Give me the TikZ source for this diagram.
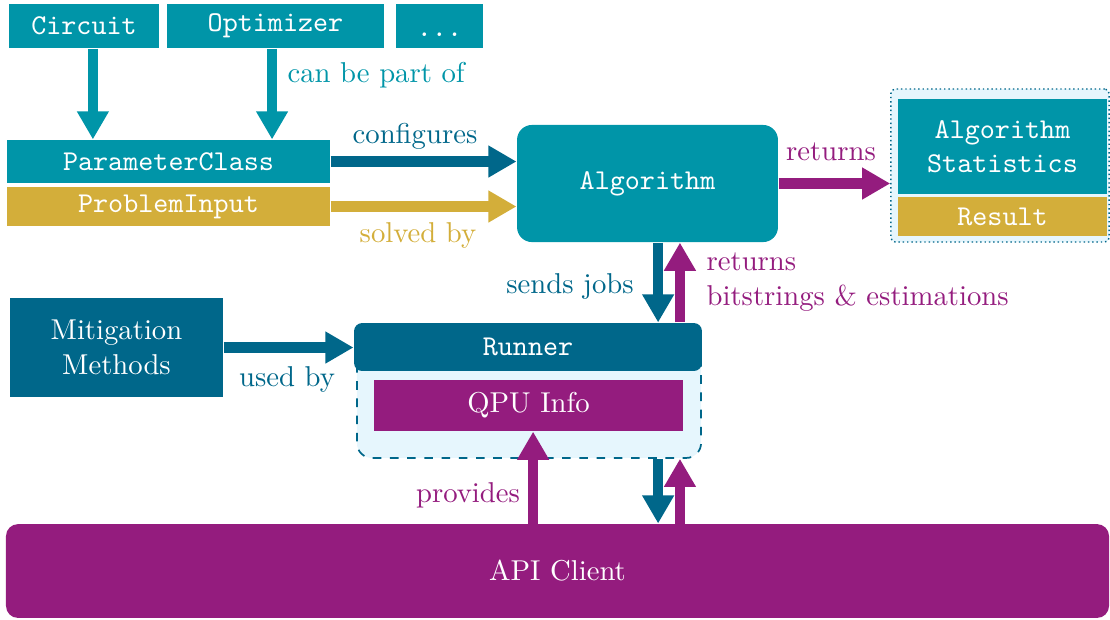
\documentclass[tikz,border=0pt]{standalone}
\usetikzlibrary{arrows.meta}

\definecolor{qteal}{RGB}{0,149,168}
\definecolor{qblue}{RGB}{0,103,138}
\definecolor{qpurple}{RGB}{148,28,126}
\definecolor{qgold}{RGB}{211,174,58}
\definecolor{qlight}{RGB}{230,246,253}

\begin{document}
\begin{tikzpicture}[x=0.3484pt, y=-0.3484pt,
  box/.style={inner sep=0pt, text=white, align=center},
  arr/.style={line width=3.5pt, -{Triangle[width=10.5pt,length=9.8pt]}},
  lbl/.style={inner sep=0pt}]

\useasboundingbox (0,0) rectangle (1110,619);

% top row
\node[box, fill=qteal, font=\ttfamily, minimum width=52.3pt, minimum height=15.3pt] (circuit) at (84,26) {Circuit};
\node[box, fill=qteal, font=\ttfamily, minimum width=75.6pt, minimum height=15.3pt] (optimizer) at (275.5,26) {Optimizer};
\node[box, fill=qteal, font=\ttfamily, text height=7.6pt, text depth=0pt, minimum width=30.3pt, minimum height=15.3pt] (more) at (439.5,26) {...};

% inputs
\node[box, fill=qteal, font=\ttfamily, minimum width=112.5pt, minimum height=15pt] (param) at (168.5,161.5) {ParameterClass};
\node[box, fill=qgold, font=\ttfamily, minimum width=112.5pt, minimum height=13.6pt] (problem) at (168.5,206.5) {ProblemInput};

\node[box, fill=qteal, font=\ttfamily, rounded corners=5.2pt, minimum width=90.9pt, minimum height=40.8pt] (algo) at (647.5,183.5) {Algorithm};

% outputs
\node[draw=qblue, densely dotted, line width=0.5pt, fill=qlight, rounded corners=1.5pt, minimum width=76pt, minimum height=53.3pt] (outbox) at (1000,165.5) {};
\node[box, fill=qteal, font=\ttfamily, minimum width=72.8pt, minimum height=33.1pt] (stats) at (1002.5,146.5) {Algorithm\\Statistics};
\node[box, fill=qgold, font=\ttfamily, minimum width=72.8pt, minimum height=13.6pt] (result) at (1002.5,216.5) {Result};

% runner
\node[box, fill=qblue, minimum width=74.2pt, minimum height=34.5pt] (mitig) at (116.5,347.5) {Mitigation\\Methods};
\node[draw=qblue, dashed, line width=0.6pt, fill=qlight, rounded corners=5.2pt, minimum width=119.9pt, minimum height=46.3pt] (runnerbox) at (529,391.5) {};
\node[box, fill=qblue, font=\ttfamily, rounded corners=2.8pt, minimum width=121.2pt, minimum height=16.7pt] (runner) at (528,347) {Runner};
\node[box, fill=qpurple, minimum width=107.7pt, minimum height=17.8pt] (qpu) at (528.5,405.5) {QPU Info};

\node[box, fill=qpurple, rounded corners=4.2pt, minimum width=384.3pt, minimum height=32.7pt] (api) at (557.5,571) {API Client};

% connectors
\draw[arr, qteal] ([xshift=3.1pt]circuit.south) -- ([xshift=3.1pt]circuit.south |- param.north);
\draw[arr, qteal] ([xshift=-1.2pt]optimizer.south) -- ([xshift=-1.2pt]optimizer.south |- param.north);
\draw[arr, qblue] (param.east) -- (param.east -| algo.west);
\draw[arr, qgold] (problem.east) -- (problem.east -| algo.west);
\draw[arr, qpurple] (algo.east) -- (algo.east -| outbox.west);
\draw[arr, qblue] ([xshift=3.7pt]algo.south) -- ([xshift=3.7pt]algo.south |- runner.north);
\draw[arr, qpurple] ([xshift=11.3pt]algo.south |- runner.north) -- ([xshift=11.3pt]algo.south);
\draw[arr, qblue] (mitig.east) -- (mitig.east -| runner.west);
\draw[arr, qpurple] ([xshift=1.6pt]qpu.south |- api.north) -- ([xshift=1.6pt]qpu.south);
\draw[arr, qblue] ([xshift=3.7pt]algo.south |- runnerbox.south) -- ([xshift=3.7pt]algo.south |- api.north);
\draw[arr, qpurple] ([xshift=11.3pt]algo.south |- api.north) -- ([xshift=11.3pt]algo.south |- runnerbox.south);

% labels
\node[lbl, qteal, anchor=west] (partof) at (287,75) {can be part of};
\node[lbl, qblue] (configures) at (415,136) {configures};
\node[lbl, qgold] (solved) at (418,235) {solved by};
\node[lbl, qpurple] (returns) at (831,152) {returns};
\node[lbl, qblue] (sends) at (570,286) {sends jobs};
\node[lbl, qpurple, anchor=west, align=left] (bits) at (706,282) {returns\\bitstrings \& estimations};
\node[lbl, qblue] (usedby) at (287,379) {used by};
\node[lbl, qpurple] (provides) at (468,495) {provides};

\end{tikzpicture}
\end{document}
